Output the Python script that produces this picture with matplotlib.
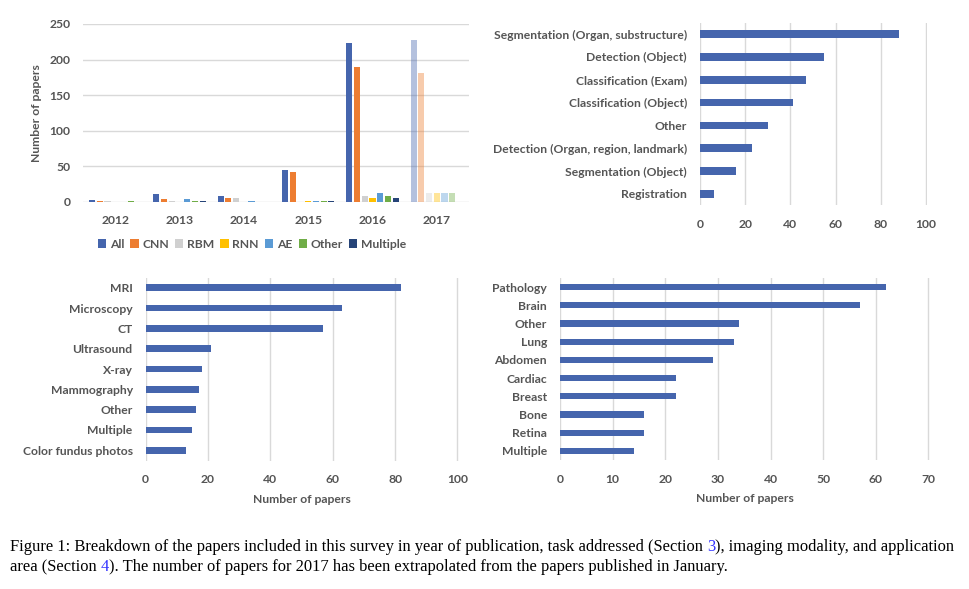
import matplotlib
matplotlib.use("Agg")
import matplotlib.pyplot as plt
import numpy as np

# ---------------- data ----------------
years = ["2012", "2013", "2014", "2015", "2016", "2017"]
methods = ["All", "CNN", "RBM", "RNN", "AE", "Other", "Multiple"]
all_v      = [3, 11, 9, 45, 224, 228]
cnn_v      = [2, 4, 6, 42, 189, 181]
rbm_v      = [2, 2, 5, 0, 9, 13]
rnn_v      = [0, 0, 0, 2, 5, 13]
ae_v       = [0, 4, 2, 2, 12, 13]
other_v    = [2, 2, 0, 2, 8, 13]
multiple_v = [0, 2, 0, 2, 5, 0]
method_values = [all_v, cnn_v, rbm_v, rnn_v, ae_v, other_v, multiple_v]

task_labels = ["Segmentation (Organ, substructure)", "Detection (Object)",
               "Classification (Exam)", "Classification (Object)", "Other",
               "Detection (Organ, region, landmark)", "Segmentation (Object)",
               "Registration"]
task_values = [88, 55, 47, 41, 30, 23, 16, 6]

modality_labels = ["MRI", "Microscopy", "CT", "Ultrasound", "X-ray",
                   "Mammography", "Other", "Multiple", "Color fundus photos"]
modality_values = [82, 63, 57, 21, 18, 17, 16, 15, 13]

area_labels = ["Pathology", "Brain", "Other", "Lung", "Abdomen", "Cardiac",
               "Breast", "Bone", "Retina", "Multiple"]
area_values = [62, 57, 34, 33, 29, 22, 22, 16, 16, 14]

# ---------------- style ----------------
FONT = "Lato"
TXT = "#555555"
GRID = "#d9d9d9"
BLUE = "#4565ad"
FS = 8.7
method_colors = ["#4565ad", "#ed7d31", "#d0d0d0", "#ffc000", "#5b9bd5",
                 "#70ad47", "#264478"]
plt.rcParams["font.family"] = [FONT, "DejaVu Sans"]

fig = plt.figure(figsize=(9.69, 5.89), dpi=100)
W, H = 969.0, 589.0

def add_ax(x0, y0, x1, y1):
    return fig.add_axes([x0 / W, 1 - y1 / H, (x1 - x0) / W, (y1 - y0) / H])

def style(ax):
    for s in ax.spines.values():
        s.set_visible(False)
    ax.tick_params(length=0, colors=TXT, labelsize=FS)
    for lab in ax.get_xticklabels() + ax.get_yticklabels():
        lab.set_fontweight("bold")
        lab.set_color(TXT)

# ---------------- top-left: grouped bars ----------------
ax1 = add_ax(83, 24, 469, 202)
x = np.arange(len(years))
step = 0.12
bw = 0.095
handles = []
for i, (name, vals, col) in enumerate(zip(methods, method_values, method_colors)):
    off = (i - 3) * step
    bars = ax1.bar(x + off, vals, width=bw, color=col, label=name, zorder=3)
    bars[-1].set_alpha(0.4)
    handles.append(bars[0])
ax1.set_xlim(-0.5, 5.5)
ax1.set_ylim(0, 250)
ax1.set_yticks([0, 50, 100, 150, 200, 250])
ax1.set_xticks(x)
ax1.set_xticklabels(years)
ax1.yaxis.grid(True, color=GRID, linewidth=1, zorder=0)
ax1.set_axisbelow(True)
ax1.set_ylabel("Number of papers", fontsize=FS, fontweight="bold", color=TXT,
               labelpad=5)
ax1.tick_params(axis="x", pad=9)
ax1.tick_params(axis="y", pad=9)
style(ax1)
leg = fig.legend(handles, methods, loc="center", bbox_to_anchor=(252 / W, 1 - 244 / H),
                 ncol=7, frameon=False, fontsize=FS, handlelength=0.7,
                 handleheight=0.7, handletextpad=0.3, columnspacing=0.5)
for t in leg.get_texts():
    t.set_color(TXT)
    t.set_fontweight("bold")

# ---------------- horizontal bar helper ----------------
def hbar(ax, labels, values, xmax, xticks, xlabel=None, bh=0.34):
    y = np.arange(len(labels))
    ax.barh(y, values, height=bh, color=BLUE, zorder=3)
    ax.set_ylim(len(labels) - 0.5, -0.5)
    ax.set_xlim(0, xmax)
    ax.set_xticks(xticks)
    ax.set_yticks(y)
    ax.set_yticklabels(labels)
    ax.xaxis.grid(True, color=GRID, linewidth=1, zorder=0)
    ax.set_axisbelow(True)
    ax.tick_params(axis="x", pad=10)
    ax.tick_params(axis="y", pad=9.4)
    if xlabel:
        ax.set_xlabel(xlabel, fontsize=FS, fontweight="bold", color=TXT, labelpad=6)
    style(ax)

ax2 = add_ax(700, 22.6, 927, 205.4)
hbar(ax2, task_labels, task_values, 100.5, [0, 20, 40, 60, 80, 100])

ax3 = add_ax(145.7, 277.5, 459, 460.5)
hbar(ax3, modality_labels, modality_values, 100.5, [0, 20, 40, 60, 80, 100],
     "Number of papers")

ax4 = add_ax(560, 277.9, 930, 460.1)
hbar(ax4, area_labels, area_values, 70.3, [0, 10, 20, 30, 40, 50, 60, 70],
     "Number of papers")

# ---------------- caption ----------------
def rich_line(pieces, x_px, y_px, size=11.9):
    renderer = fig.canvas.get_renderer()
    cur = x_px
    for txt, col in pieces:
        t = fig.text(cur / W, 1 - y_px / H, txt, fontsize=size, color=col,
                     family=["Liberation Serif", "DejaVu Serif"], va="center",
                     ha="left")
        bb = t.get_window_extent(renderer=renderer)
        cur += bb.width

rich_line([("Figure 1: Breakdown of the papers included in this survey in year of publication, "
            "task addressed (Section ", "black"), ("3", "#3333ff"),
           ("), imaging modality, and application", "black")], 10, 547)
rich_line([("area (Section ", "black"), ("4", "#3333ff"),
           ("). The number of papers for 2017 has been extrapolated from the papers "
            "published in January.", "black")], 10, 567)

fig.savefig("out.png", dpi=100)
